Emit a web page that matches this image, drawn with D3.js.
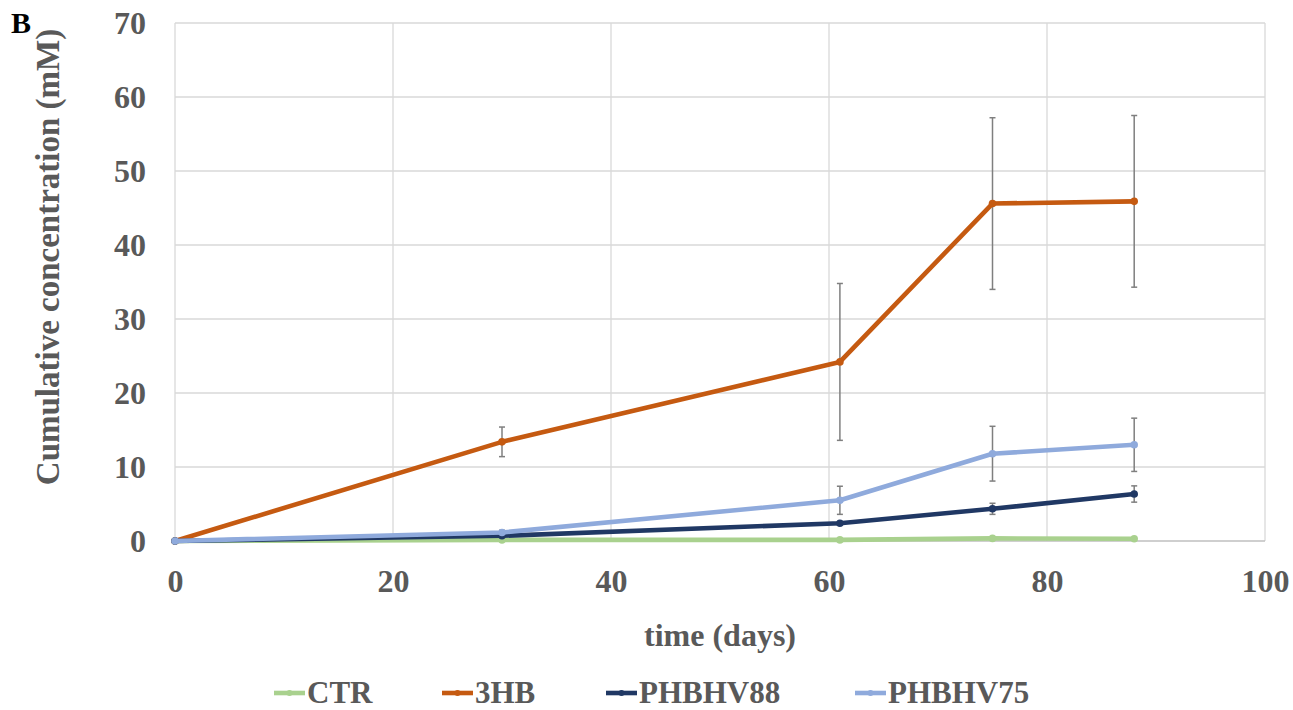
<!DOCTYPE html>
<html>
<head>
<meta charset="utf-8">
<script src="https://cdn.jsdelivr.net/npm/d3@7"></script>
<style>
  html, body { margin: 0; padding: 0; background: #fff; }
  svg { display: block; }
  text { font-family: "Liberation Serif", "Times New Roman", serif; font-weight: bold; }
</style>
</head>
<body>
<svg id="chart" width="1293" height="710"></svg>
<script>
// Sampling days
const days = [0, 30, 61, 75, 88];

// Cumulative concentration (mM) per treatment
const ctrValues      = [0, 0.15, 0.15, 0.35, 0.3];
const hbValues       = [0, 13.4, 24.2, 45.6, 45.9];
const phbhv88Values  = [0, 0.7, 2.4, 4.35, 6.35];
const phbhv75Values  = [0, 1.15, 5.5, 11.8, 13.0];

// Error bar half-widths (mM)
const ctrErrors      = [0, 0, 0, 0, 0];
const hbErrors       = [0, 2.0, 10.6, 11.6, 11.6];
const phbhv88Errors  = [0, 0, 0, 0.75, 1.1];
const phbhv75Errors  = [0, 0.3, 1.9, 3.7, 3.6];

const seriesNames  = ["CTR", "3HB", "PHBHV88", "PHBHV75"];
const seriesColors = ["#a9d18e", "#c55a11", "#203864", "#8faadc"];

const xTicks = [0, 20, 40, 60, 80, 100];
const yTicks = [0, 10, 20, 30, 40, 50, 60, 70];

const series = [
  { name: seriesNames[0], color: seriesColors[0], values: ctrValues, errors: ctrErrors },
  { name: seriesNames[1], color: seriesColors[1], values: hbValues, errors: hbErrors },
  { name: seriesNames[2], color: seriesColors[2], values: phbhv88Values, errors: phbhv88Errors },
  { name: seriesNames[3], color: seriesColors[3], values: phbhv75Values, errors: phbhv75Errors }
];

const svg = d3.select("#chart");
const plot = { left: 175, right: 1265, top: 23, bottom: 541 };

const x = d3.scaleLinear().domain([0, 100]).range([plot.left, plot.right]);
const y = d3.scaleLinear().domain([0, 70]).range([plot.bottom, plot.top]);

const textGray = "#595959";
const gridGray = "#d9d9d9";

// Gridlines
svg.append("g")
  .selectAll("line")
  .data(xTicks)
  .join("line")
  .attr("x1", d => x(d)).attr("x2", d => x(d))
  .attr("y1", plot.top).attr("y2", plot.bottom)
  .attr("stroke", gridGray).attr("stroke-width", 1.3);

svg.append("g")
  .selectAll("line")
  .data(yTicks.filter(d => d > 0))
  .join("line")
  .attr("x1", plot.left).attr("x2", plot.right)
  .attr("y1", d => y(d)).attr("y2", d => y(d))
  .attr("stroke", gridGray).attr("stroke-width", 1.3);

// Bottom axis line
svg.append("line")
  .attr("x1", plot.left).attr("x2", plot.right)
  .attr("y1", y(0)).attr("y2", y(0))
  .attr("stroke", "#bfbfbf").attr("stroke-width", 1.3);

// Axis tick labels
const xAxis = d3.axisBottom(x).tickValues(xTicks).tickSize(0).tickPadding(0).tickFormat(d3.format("d"));
const gx = svg.append("g").attr("transform", `translate(0,${plot.bottom})`).call(xAxis);
gx.select(".domain").remove();
gx.selectAll("text")
  .attr("y", 51).attr("dy", null)
  .attr("fill", textGray).attr("font-size", 32)
  .attr("font-family", "Liberation Serif, Times New Roman, serif").attr("font-weight", "bold");

const yAxis = d3.axisLeft(y).tickValues(yTicks).tickSize(0).tickPadding(0).tickFormat(d3.format("d"));
const gy = svg.append("g").attr("transform", `translate(${plot.left},0)`).call(yAxis);
gy.select(".domain").remove();
gy.selectAll("text")
  .attr("x", -29).attr("dy", "0.34em")
  .attr("fill", textGray).attr("font-size", 32)
  .attr("font-family", "Liberation Serif, Times New Roman, serif").attr("font-weight", "bold");

// Axis titles
svg.append("text")
  .attr("x", (plot.left + plot.right) / 2).attr("y", 646)
  .attr("text-anchor", "middle")
  .attr("fill", textGray).attr("font-size", 32)
  .text("time (days)");

svg.append("text")
  .attr("transform", "translate(59,257) rotate(-90)")
  .attr("text-anchor", "middle")
  .attr("fill", textGray).attr("font-size", 33)
  .text("Cumulative concentration (mM)");

// Panel letter
svg.append("text")
  .attr("x", 11).attr("y", 33)
  .attr("fill", "#000").attr("font-size", 30)
  .text("B");

// Error bars
const errGroup = svg.append("g");
series.forEach(s => {
  days.forEach((d, i) => {
    const e = s.errors[i];
    if (!e) return;
    const cx = x(d);
    const yTop = y(s.values[i] + e);
    const yBot = y(s.values[i] - e);
    errGroup.append("line")
      .attr("x1", cx).attr("x2", cx).attr("y1", yTop).attr("y2", yBot)
      .attr("stroke", "#7f7f7f").attr("stroke-width", 1.5);
    [yTop, yBot].forEach(yy => {
      errGroup.append("line")
        .attr("x1", cx - 3).attr("x2", cx + 3).attr("y1", yy).attr("y2", yy)
        .attr("stroke", "#7f7f7f").attr("stroke-width", 1.5);
    });
  });
});

// Series lines and markers
const line = d3.line().x(d => x(d[0])).y(d => y(d[1]));
series.forEach(s => {
  const pts = days.map((d, i) => [d, s.values[i]]);
  const g = svg.append("g");
  g.append("path")
    .attr("d", line(pts))
    .attr("fill", "none")
    .attr("stroke", s.color)
    .attr("stroke-width", 4.6)
    .attr("stroke-linejoin", "round")
    .attr("stroke-linecap", "round");
  g.selectAll("circle")
    .data(pts)
    .join("circle")
    .attr("cx", d => x(d[0])).attr("cy", d => y(d[1]))
    .attr("r", 3.8)
    .attr("fill", s.color);
});

// Legend
const legendX = [274, 442, 606, 855];
const legendY = 693;
const legend = svg.append("g");
series.forEach((s, i) => {
  const lx = legendX[i];
  legend.append("line")
    .attr("x1", lx).attr("x2", lx + 31)
    .attr("y1", legendY).attr("y2", legendY)
    .attr("stroke", s.color).attr("stroke-width", 4.6);
  legend.append("circle")
    .attr("cx", lx + 15.5).attr("cy", legendY).attr("r", 3)
    .attr("fill", s.color);
  legend.append("text")
    .attr("x", lx + 33).attr("y", 703)
    .attr("fill", textGray).attr("font-size", 31)
    .text(s.name);
});
</script>
</body>
</html>
